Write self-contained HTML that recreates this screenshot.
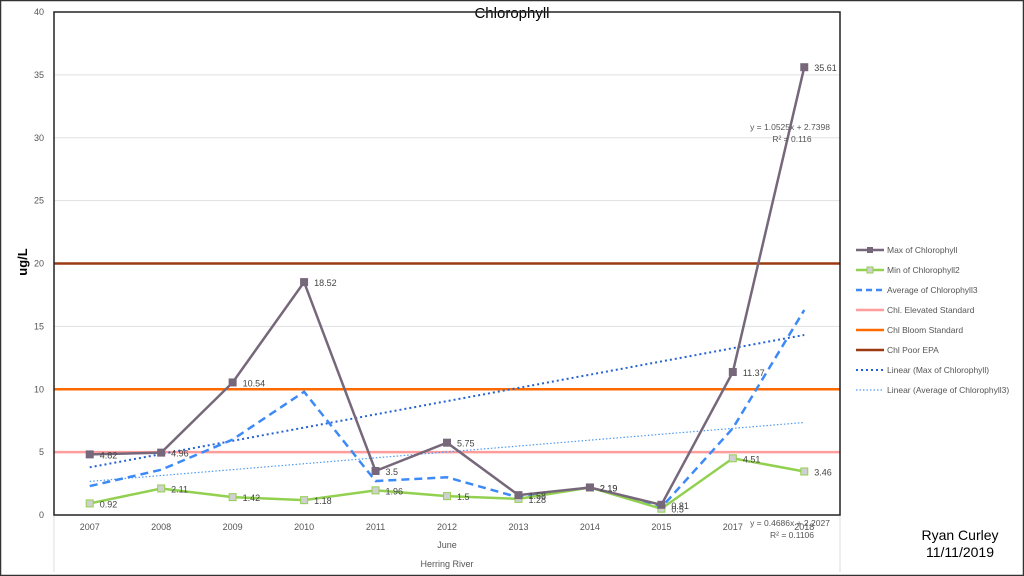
<!DOCTYPE html>
<html><head><meta charset="utf-8"><style>
body{margin:0;background:#fff}
svg{display:block;font-family:"Liberation Sans",sans-serif}
</style></head><body>
<svg id="c" width="1024" height="576" viewBox="0 0 1024 576">
<rect x="0.5" y="0.5" width="1023" height="575" fill="#fff" stroke="#333" stroke-width="1.5"/>
<text x="512" y="18" text-anchor="middle" font-size="15" fill="#000">Chlorophyll</text>
<text transform="translate(27,262) rotate(-90)" text-anchor="middle" font-size="13" font-weight="bold" fill="#000">ug/L</text>
<line x1="840" y1="515" x2="840" y2="572" stroke="#ddd"/>
<line x1="54" y1="515" x2="54" y2="572" stroke="#ddd"/>
<g id="grid"></g><g id="marks"></g>
<rect x="54" y="12" width="786" height="503" fill="none" stroke="#222" stroke-width="1.5"/>
<text x="447" y="548" text-anchor="middle" font-size="9" fill="#555">June</text>
<text x="447" y="567" text-anchor="middle" font-size="9" fill="#555">Herring River</text>
<text x="790" y="130" text-anchor="middle" font-size="8.5" fill="#555">y = 1.0525x + 2.7398</text>
<text x="792" y="142" text-anchor="middle" font-size="8.5" fill="#555">R² = 0.116</text>
<text x="790" y="526" text-anchor="middle" font-size="8.5" fill="#555">y = 0.4686x + 2.2027</text>
<text x="792" y="538" text-anchor="middle" font-size="8.5" fill="#555">R² = 0.1106</text>
<text x="960" y="540" text-anchor="middle" font-size="14" fill="#000">Ryan Curley</text>
<text x="960" y="557" text-anchor="middle" font-size="14" fill="#000">11/11/2019</text>
<g id="legend"></g>
</svg>
<script>
const categories=["2007","2008","2009","2010","2011","2012","2013","2014","2015","2017","2018"];
const maxVals=[4.82,4.96,10.54,18.52,3.5,5.75,1.58,2.19,0.81,11.37,35.61];
const minVals=[0.92,2.11,1.42,1.18,1.96,1.5,1.28,2.19,0.5,4.51,3.46];
const avgVals=[2.3,3.6,6.0,9.8,2.7,3.0,1.4,2.19,0.6,6.9,16.3];
const elevatedStd=5, bloomStd=10, poorEPA=20;
const trendMax=[1.0525,2.7398], trendAvg=[0.4686,2.2027];
const yTicks=[0,5,10,15,20,25,30,35,40];
const NS="http://www.w3.org/2000/svg";
const L=54,R=840,T=12,B=515,YMAX=40;
const step=(R-L)/categories.length;
const xs=i=>L+step*(i+0.5);
const ys=v=>B-(v/YMAX)*(B-T);
function mk(tag,attrs,parent){const e=document.createElementNS(NS,tag);for(const k in attrs)e.setAttribute(k,attrs[k]);parent.appendChild(e);return e;}
const grid=document.getElementById('grid'),marks=document.getElementById('marks'),leg=document.getElementById('legend');
yTicks.forEach(t=>{
 const g=mk('line',{x1:L,x2:R,y1:ys(t),y2:ys(t),stroke:'#e0e0e0'},grid);
 
 
 const tx=mk('text',{x:44,y:ys(t)+3,'text-anchor':'end','font-size':9,fill:'#555'},grid);tx.textContent=t;
 
 
});
categories.forEach((c,i)=>{
 const tx=mk('text',{x:xs(i),y:530,'text-anchor':'middle','font-size':9,fill:'#555'},grid);tx.textContent=c;
 
 
});
function hline(v,color,name){const l=mk('line',{x1:L,x2:R,y1:ys(v),y2:ys(v),stroke:color,'stroke-width':2.5},marks);
 
 }
hline(elevatedStd,'#ff9c9c','elevated-standard-line');
hline(bloomStd,'#ff6a00','bloom-standard-line');
hline(poorEPA,'#9b3a12','poor-epa-line');
function trend(p,color,dash,w,name){const l=mk('line',{x1:xs(0),x2:xs(categories.length-1),y1:ys(p[0]*1+p[1]),y2:ys(p[0]*categories.length+p[1]),stroke:color,'stroke-width':w,'stroke-dasharray':dash},marks);
 
 }
trend(trendMax,'#2463d1','2 3',2,'trend-max-line');
trend(trendAvg,'#4f9af0','1.5 2',1.2,'trend-avg-line');
function series(vals,color,w,dash,marker,name,labels){
 const pts=vals.map((v,i)=>xs(i)+','+ys(v)).join(' ');
 const p=mk('polyline',{points:pts,fill:'none',stroke:color,'stroke-width':w,'stroke-dasharray':dash||'none'},marks);
 
 
 vals.forEach((v,i)=>{
  if(marker){const m=mk('rect',{x:xs(i)-3.5,y:ys(v)-3.5,width:7,height:7,fill:marker[0],stroke:marker[1]},marks);
   
   }
  if(labels){const t=mk('text',{x:xs(i)+10,y:ys(v)+4,'font-size':9,fill:'#444'},marks);t.textContent=v;
   
   }
 });
}
series(avgVals,'#3d8af7',2.5,'8 5',null,'avg',false);
series(minVals,'#92d050',2.5,null,['#d0d0d0','#92d050'],'min',true);
series(maxVals,'#76687a',2.5,null,['#76687a','#76687a'],'max',true);
const legItems=[["Max of Chlorophyll","#76687a",2.5,"none","max"],["Min of Chlorophyll2","#92d050",2.5,"none","min"],["Average of Chlorophyll3","#3d8af7",2.5,"6 4",""],["Chl. Elevated Standard","#ff9c9c",2.5,"none",""],["Chl Bloom Standard","#ff6a00",2.5,"none",""],["Chl Poor EPA","#9b3a12",2.5,"none",""],["Linear (Max of Chlorophyll)","#2463d1",2,"2 3",""],["Linear (Average of Chlorophyll3)","#4f9af0",1.2,"1.5 2",""]];
legItems.forEach((it,i)=>{
 const y=250+i*20;
 const g=mk('g',{},leg);
 
 
 mk('line',{x1:856,x2:884,y1:y,y2:y,stroke:it[1],'stroke-width':it[2],'stroke-dasharray':it[3]},g);
 if(it[4]==='max')mk('rect',{x:867,y:y-3,width:6,height:6,fill:'#76687a'},g);
 if(it[4]==='min')mk('rect',{x:867,y:y-3,width:6,height:6,fill:'#d0d0d0',stroke:'#92d050'},g);
 const t=mk('text',{x:887,y:y+3,'font-size':8.5,fill:'#555'},g);t.textContent=it[0];
});
</script>
</body></html>
